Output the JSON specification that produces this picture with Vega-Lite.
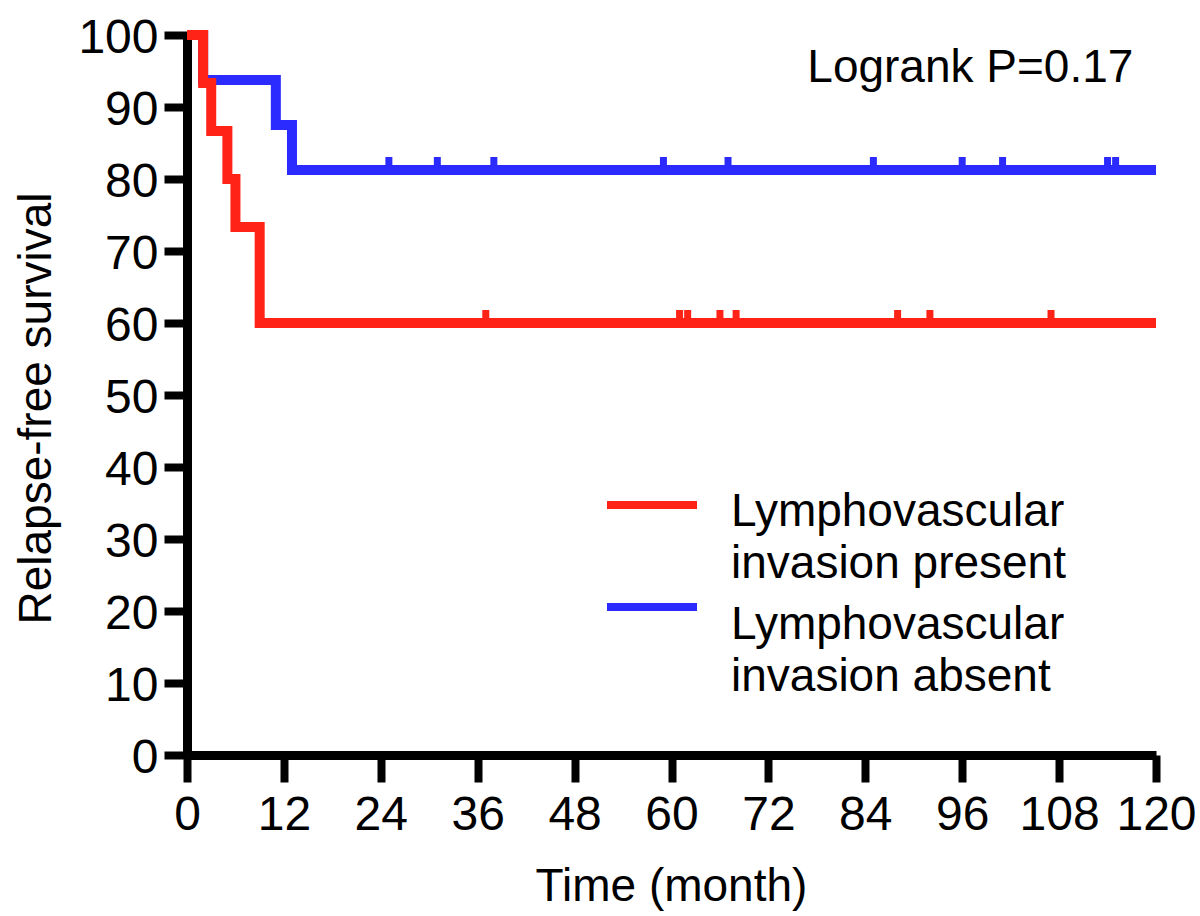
{
  "$schema": "https://vega.github.io/schema/vega-lite/v6.json",
  "width": 969,
  "height": 720,
  "autosize": {"type": "none"},
  "padding": {"left": 187, "top": 35, "right": 44, "bottom": 161},
  "background": "white",
  "config": {
    "font": "Liberation Sans",
    "view": {"stroke": null},
    "axis": {
      "grid": false,
      "domainColor": "black",
      "tickColor": "black",
      "labelColor": "black",
      "titleColor": "black",
      "labelFont": "Liberation Sans",
      "titleFont": "Liberation Sans",
      "labelFontSize": 48,
      "titleFontSize": 46,
      "titleFontWeight": "normal",
      "domainWidth": 9,
      "tickWidth": 8,
      "labelFlush": false,
      "labelOverlap": false
    }
  },
  "datasets": {
    "curve": [
      {"time": 0, "survival": 100, "group": "Lymphovascular invasion present"},
      {"time": 2, "survival": 93.33, "group": "Lymphovascular invasion present"},
      {"time": 3, "survival": 86.67, "group": "Lymphovascular invasion present"},
      {"time": 5, "survival": 80, "group": "Lymphovascular invasion present"},
      {"time": 6, "survival": 73.33, "group": "Lymphovascular invasion present"},
      {"time": 9, "survival": 60, "group": "Lymphovascular invasion present"},
      {"time": 120, "survival": 60, "group": "Lymphovascular invasion present"},
      {"time": 0, "survival": 100, "group": "Lymphovascular invasion absent"},
      {"time": 2, "survival": 93.75, "group": "Lymphovascular invasion absent"},
      {"time": 11, "survival": 87.5, "group": "Lymphovascular invasion absent"},
      {"time": 13, "survival": 81.25, "group": "Lymphovascular invasion absent"},
      {"time": 120, "survival": 81.25, "group": "Lymphovascular invasion absent"}
    ],
    "censored": [
      {"time": 37, "survival": 60, "group": "Lymphovascular invasion present"},
      {"time": 61, "survival": 60, "group": "Lymphovascular invasion present"},
      {"time": 62, "survival": 60, "group": "Lymphovascular invasion present"},
      {"time": 66, "survival": 60, "group": "Lymphovascular invasion present"},
      {"time": 68, "survival": 60, "group": "Lymphovascular invasion present"},
      {"time": 88, "survival": 60, "group": "Lymphovascular invasion present"},
      {"time": 92, "survival": 60, "group": "Lymphovascular invasion present"},
      {"time": 107, "survival": 60, "group": "Lymphovascular invasion present"},
      {"time": 25, "survival": 81.25, "group": "Lymphovascular invasion absent"},
      {"time": 31, "survival": 81.25, "group": "Lymphovascular invasion absent"},
      {"time": 38, "survival": 81.25, "group": "Lymphovascular invasion absent"},
      {"time": 59, "survival": 81.25, "group": "Lymphovascular invasion absent"},
      {"time": 67, "survival": 81.25, "group": "Lymphovascular invasion absent"},
      {"time": 85, "survival": 81.25, "group": "Lymphovascular invasion absent"},
      {"time": 96, "survival": 81.25, "group": "Lymphovascular invasion absent"},
      {"time": 101, "survival": 81.25, "group": "Lymphovascular invasion absent"},
      {"time": 114, "survival": 81.25, "group": "Lymphovascular invasion absent"},
      {"time": 115, "survival": 81.25, "group": "Lymphovascular invasion absent"}
    ],
    "annotation": [
      {"time": 117.2, "survival": 93.5, "label": "Logrank P=0.17"}
    ]
  },
  "encoding": {
    "x": {
      "field": "time",
      "type": "quantitative",
      "scale": {"domain": [0, 120], "nice": false, "zero": false},
      "axis": {
        "values": [0, 12, 24, 36, 48, 60, 72, 84, 96, 108, 120],
        "title": "Time (month)",
        "tickSize": 27,
        "labelPadding": 9,
        "titleX": 484,
        "titleY": 145,
        "titleAlign": "center",
        "titleBaseline": "alphabetic"
      }
    },
    "y": {
      "field": "survival",
      "type": "quantitative",
      "scale": {"domain": [0, 100], "nice": false},
      "axis": {
        "values": [0, 10, 20, 30, 40, 50, 60, 70, 80, 90, 100],
        "title": "Relapse-free survival",
        "tickSize": 23,
        "labelPadding": 6,
        "labelOffset": 3,
        "titleAngle": -90,
        "titleX": -137,
        "titleY": 373,
        "titleAlign": "center",
        "titleBaseline": "alphabetic"
      }
    }
  },
  "layer": [
    {
      "data": {"name": "curve"},
      "transform": [{"filter": "datum.group === 'Lymphovascular invasion absent'"}],
      "mark": {"type": "line", "interpolate": "step-after", "strokeWidth": 10, "strokeCap": "butt", "strokeJoin": "miter"},
      "encoding": {
        "color": {
          "field": "group",
          "type": "nominal",
          "scale": {"domain": ["Lymphovascular invasion present", "Lymphovascular invasion absent"], "range": ["#FF2216", "#2B2BFF"]},
          "legend": {
            "orient": "none",
            "legendX": 416,
            "legendY": 421,
            "title": null,
            "symbolType": "stroke",
            "symbolSize": 8100,
            "symbolStrokeWidth": 8,
            "labelFont": "Liberation Sans",
            "labelFontSize": 46,
            "labelColor": "black",
            "labelLimit": 600,
            "labelOffset": 30,
            "labelBaseline": "alphabetic",
            "rowPadding": 0,
            "labelExpr": "[substring(datum.label, 0, 14), substring(datum.label, 15)]",
            "encode": {
              "labels": {"update": {"dy": {"signal": "21 - 18 * datum.index"}, "lineHeight": {"value": 52}}},
              "symbols": {"update": {"y": {"signal": "datum.size * 0.5 - 29 * datum.index"}}}
            }
          }
        }
      }
    },
    {
      "data": {"name": "curve"},
      "transform": [{"filter": "datum.group === 'Lymphovascular invasion present'"}],
      "mark": {"type": "line", "interpolate": "step-after", "strokeWidth": 10, "strokeCap": "butt", "strokeJoin": "miter"},
      "encoding": {
        "color": {"field": "group", "type": "nominal"}
      }
    },
    {
      "data": {"name": "censored"},
      "transform": [{"filter": "datum.group === 'Lymphovascular invasion absent'"}],
      "mark": {"type": "tick", "orient": "vertical", "size": 13, "thickness": 7, "yOffset": -6.5, "color": "#2B2BFF", "opacity": 1}
    },
    {
      "data": {"name": "censored"},
      "transform": [{"filter": "datum.group === 'Lymphovascular invasion present'"}],
      "mark": {"type": "tick", "orient": "vertical", "size": 13, "thickness": 7, "yOffset": -6.5, "color": "#FF2216", "opacity": 1}
    },
    {
      "data": {"name": "annotation"},
      "mark": {"type": "text", "align": "right", "baseline": "alphabetic", "fontSize": 46, "font": "Liberation Sans", "color": "black"},
      "encoding": {
        "text": {"field": "label", "type": "nominal"}
      }
    }
  ]
}
